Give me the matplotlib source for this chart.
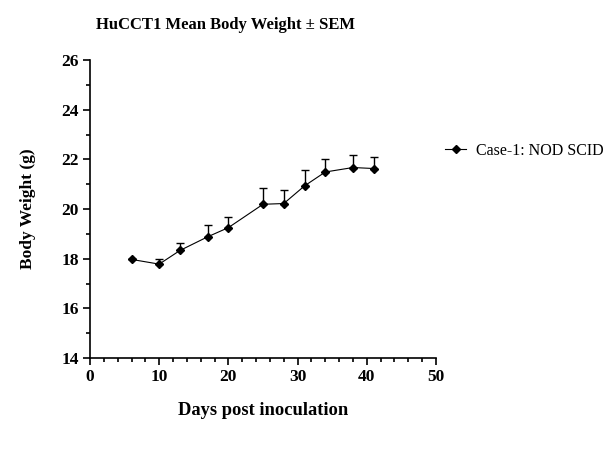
import numpy as np
import matplotlib
matplotlib.use("Agg")
import matplotlib.pyplot as plt
from matplotlib.ticker import MultipleLocator

plt.rcParams['font.family'] = ['Liberation Serif', 'DejaVu Serif']

# Data
days = [6, 10, 13, 17, 20, 25, 28, 31, 34, 38, 41]
mean_weight = [17.97, 17.78, 18.33, 18.88, 19.25, 20.19, 20.22, 20.93, 21.49, 21.67, 21.63]
sem = [0.0, 0.20, 0.31, 0.47, 0.42, 0.65, 0.56, 0.63, 0.51, 0.49, 0.45]
series_label = 'Case-1: NOD SCID'

fig = plt.figure(figsize=(6.16, 4.57), dpi=100)
ax = fig.add_axes([90 / 616, 1 - 358 / 457, 346 / 616, 298 / 457])

# only upper error bars
ax.errorbar(days, mean_weight, yerr=[np.zeros(len(sem)), sem], fmt='none',
            ecolor='black', elinewidth=1, capsize=3, capthick=1)
ax.plot(days, mean_weight, color='black', lw=0.8, marker='D', ms=4.5,
        label=series_label)

ax.set_xlim(0, 50)
ax.set_ylim(14, 26)
ax.xaxis.set_major_locator(MultipleLocator(10))
ax.xaxis.set_minor_locator(MultipleLocator(2))
ax.yaxis.set_major_locator(MultipleLocator(2))
ax.yaxis.set_minor_locator(MultipleLocator(1))

ax.spines['top'].set_visible(False)
ax.spines['right'].set_visible(False)
for s in ['left', 'bottom']:
    ax.spines[s].set_linewidth(1.2)
ax.tick_params(which='major', length=5, width=1.2, labelsize=12.5, pad=3)
ax.tick_params(which='minor', length=3, width=1.2)
for lab in ax.get_xticklabels() + ax.get_yticklabels():
    lab.set_fontweight('bold')

ax.set_xlabel('Days post inoculation', fontsize=13.3, fontweight='bold', labelpad=12)
ax.set_ylabel('Body Weight (g)', fontsize=12.5, fontweight='bold', labelpad=18)

fig.text(226 / 616, 1 - 25 / 457, 'HuCCT1 Mean Body Weight \u00b1 SEM',
         ha='center', va='center', fontsize=12, fontweight='bold')

ax.legend(loc='center left', bbox_to_anchor=(0.985, 0.695), frameon=False,
          fontsize=11.5, handlelength=1.3, handletextpad=0.6, markerscale=0.9)

fig.savefig('out.png', dpi=100)
